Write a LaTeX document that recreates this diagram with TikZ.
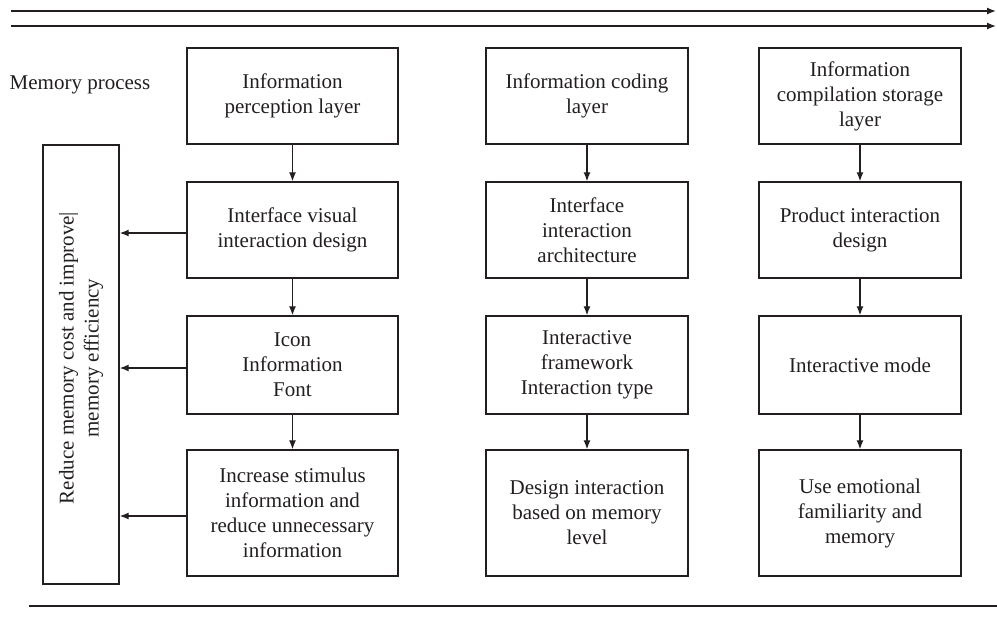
\documentclass[tikz,border=0pt]{standalone}
\usepackage{fontspec}
\setmainfont{Liberation Serif}
\usetikzlibrary{arrows.meta}
\definecolor{ink}{HTML}{231F20}
\begin{document}
\begin{tikzpicture}[x=1pt,y=-1pt,
  every node/.style={font=\fontsize{21}{25}\selectfont, text=ink},
  layerbox/.style={draw=ink, line width=1.4pt, align=center, inner sep=0pt},
  flow/.style={draw=ink, line width=1.3pt, -{Latex[length=9pt,width=7pt]}},
  rule/.style={draw=ink, line width=1.4pt}]
\useasboundingbox (0,0) rectangle (997,619);

% time/process arrows along the top and closing rule at the bottom
\coordinate (t1s) at (11,11);  \coordinate (t1e) at (996,11);
\coordinate (t2s) at (11,26);  \coordinate (t2e) at (996,26);
\coordinate (bs) at (29,606);  \coordinate (be) at (997,606);
\draw[flow] (t1s) -- (t1e);
\draw[flow] (t2s) -- (t2e);
\draw[rule] (bs) -- (be);

\node (mp) at (80,85) {Memory process};

% column 1
\node[layerbox, minimum width=211pt, minimum height=96pt] (a1) at (292.5,96) {Information\\perception layer};
\node[layerbox, minimum width=211pt, minimum height=96pt] (a2) at (292.5,230) {Interface visual\\interaction design};
\node[layerbox, minimum width=211pt, minimum height=98pt] (a3) at (292.5,365) {Icon\\Information\\Font};
\node[layerbox, minimum width=211pt, minimum height=126pt] (a4) at (292.5,513) {Increase stimulus\\information and\\reduce unnecessary\\information};

% column 2
\node[layerbox, minimum width=202pt, minimum height=96pt] (b1) at (587,96) {Information coding\\layer};
\node[layerbox, minimum width=202pt, minimum height=96pt] (b2) at (587,230) {Interface\\interaction\\architecture};
\node[layerbox, minimum width=202pt, minimum height=98pt] (b3) at (587,365) {Interactive\\framework\\Interaction type};
\node[layerbox, minimum width=202pt, minimum height=126pt] (b4) at (587,513) {Design interaction\\based on memory\\level};

% column 3
\node[layerbox, minimum width=202pt, minimum height=96pt] (c1) at (860,96) {Information\\compilation storage\\layer};
\node[layerbox, minimum width=202pt, minimum height=96pt] (c2) at (860,230) {Product interaction\\design};
\node[layerbox, minimum width=202pt, minimum height=98pt] (c3) at (860,365) {Interactive mode};
\node[layerbox, minimum width=202pt, minimum height=126pt] (c4) at (860,513) {Use emotional\\familiarity and\\memory};

% goal box on the left
\node[layerbox, minimum width=76pt, minimum height=439pt] (g) at (81,364.5) {};
\node[rotate=90, align=center] (gt) at (81,358) {Reduce memory cost and improve|\\memory efficiency};

% vertical flows
\foreach \c in {a,b,c}{
  \draw[flow] (\c1) -- (\c2);
  \draw[flow] (\c2) -- (\c3);
  \draw[flow] (\c3) -- (\c4);
}

% feedback into the goal box
\foreach \n in {a2,a3,a4}{
  \draw[flow] ([yshift=-3pt]\n.west) -- ([yshift=-3pt]\n.west -| g.east);
}
\end{tikzpicture}
\end{document}
